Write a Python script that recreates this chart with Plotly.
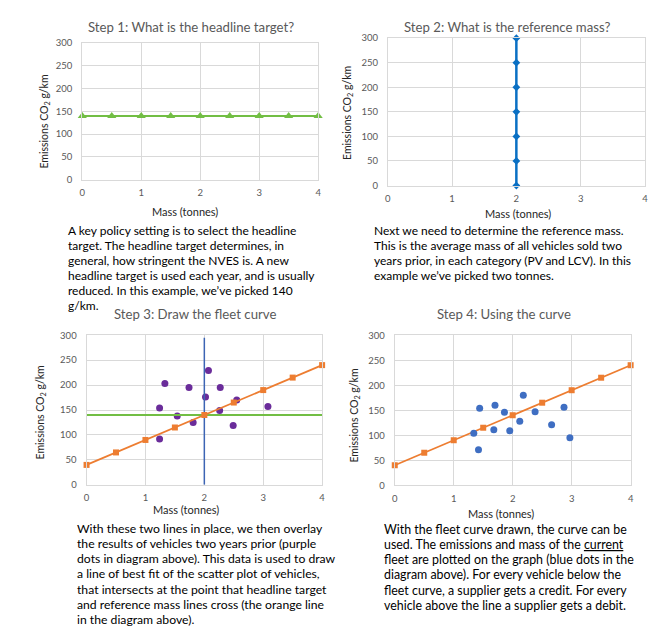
import plotly.graph_objects as go

W, H = 670, 635

# ---------------- data ----------------
mass_grid = [0, 0.5, 1, 1.5, 2, 2.5, 3, 3.5, 4]
headline_target = [140, 140, 140, 140, 140, 140, 140, 140, 140]

ref_mass_x = [2, 2, 2, 2, 2, 2, 2]
ref_mass_y = [0, 50, 100, 150, 200, 250, 300]

fleet_curve = [40, 65, 90, 115, 140, 165, 190, 215, 240]

target_line_x = [0, 4]
target_line_y = [140, 140]
ref_line_x = [2, 2]
ref_line_y = [0, 295]

prior_mass = [1.33, 1.74, 2.07, 2.27, 2.02, 2.55, 3.08, 1.24, 1.54, 2.26, 1.81, 2.49, 1.24]
prior_emis = [203, 195, 229, 195, 176, 170, 157, 154, 138, 149, 125, 119, 92]

current_mass = [1.44, 1.70, 2.18, 1.86, 2.38, 2.87, 2.12, 2.66, 1.34, 1.68, 1.95, 2.97, 1.42]
current_emis = [154, 160, 180, 146, 147, 156, 128, 121, 104, 111, 109, 95, 71]

x_ticks = [0, 1, 2, 3, 4]
y_ticks = [0, 50, 100, 150, 200, 250, 300]

titles = ["Step 1: What is the headline target?",
          "Step 2: What is the reference mass?",
          "Step 3: Draw the fleet curve",
          "Step 4: Using the curve"]
x_title = "Mass (tonnes)"
y_title = "Emissions CO<sub>2</sub> g/km"

para1 = ["A key policy setting is to select the headline",
         "target. The headline target determines, in",
         "general, how stringent the NVES is. A new",
         "headline target is used each year, and is usually",
         "reduced. In this example, we\u2019ve picked 140",
         "g/km."]
para2 = ["Next we need to determine the reference mass.",
         "This is the average mass of all vehicles sold two",
         "years prior, in each category (PV and LCV). In this",
         "example we\u2019ve picked two tonnes."]
para3 = ["With these two lines in place, we then overlay",
         "the results of vehicles two years prior (purple",
         "dots in diagram above). This data is used to draw",
         "a line of best fit of the scatter plot of vehicles,",
         "that intersects at the point that headline target",
         "and reference mass lines cross (the orange line",
         "in the diagram above)."]
para4 = ["With the fleet curve drawn, the curve can be",
         "used. The emissions and mass of the <u>current</u>",
         "fleet are plotted on the graph (blue dots in the",
         "diagram above). For every vehicle below the",
         "fleet curve, a supplier gets a credit. For every",
         "vehicle above the line a supplier gets a debit."]

# ---------------- styles ----------------
FONT = "Lato"
GREEN = "#72BE44"
BLUE2 = "#0A70C4"
BLUE3 = "#3C64B4"
ORANGE = "#ED7D31"
PURPLE = "#6A2C9A"
DOTBLUE = "#3F6EC2"
GRID = "#D9D9D9"
GRAY = "#595959"

fig = go.Figure()

def px_x(p):
    return p / W

def px_y(p):
    return 1 - p / H

# plot areas in pixels: (left, right, top, bottom)
areas = [(80, 318, 37.7, 176.7),
         (388.3, 647.7, 32.7, 182.7),
         (84.3, 322, 335, 487.3),
         (395.3, 633.3, 335, 487.7)]

# Step 1
fig.add_trace(go.Scatter(x=mass_grid, y=headline_target, mode="lines+markers",
                         line=dict(color=GREEN, width=2),
                         marker=dict(symbol="triangle-up", size=8, color=GREEN),
                         cliponaxis=False, xaxis="x", yaxis="y"))
# Step 2
fig.add_trace(go.Scatter(x=ref_mass_x, y=ref_mass_y, mode="lines+markers",
                         line=dict(color=BLUE2, width=2.5),
                         marker=dict(symbol="diamond", size=6, color=BLUE2),
                         cliponaxis=False, xaxis="x2", yaxis="y2"))
# Step 3
fig.add_trace(go.Scatter(x=prior_mass, y=prior_emis, mode="markers",
                         marker=dict(size=7, color=PURPLE),
                         cliponaxis=False, xaxis="x3", yaxis="y3"))
fig.add_trace(go.Scatter(x=target_line_x, y=target_line_y, mode="lines",
                         line=dict(color=GREEN, width=1.8),
                         cliponaxis=False, xaxis="x3", yaxis="y3"))
fig.add_trace(go.Scatter(x=ref_line_x, y=ref_line_y, mode="lines",
                         line=dict(color=BLUE3, width=1.5),
                         cliponaxis=False, xaxis="x3", yaxis="y3"))
fig.add_trace(go.Scatter(x=mass_grid, y=fleet_curve, mode="lines+markers",
                         line=dict(color=ORANGE, width=1.8),
                         marker=dict(symbol="square", size=6, color=ORANGE),
                         cliponaxis=False, xaxis="x3", yaxis="y3"))
# Step 4
fig.add_trace(go.Scatter(x=mass_grid, y=fleet_curve, mode="lines+markers",
                         line=dict(color=ORANGE, width=1.8),
                         marker=dict(symbol="square", size=6, color=ORANGE),
                         cliponaxis=False, xaxis="x4", yaxis="y4"))
fig.add_trace(go.Scatter(x=current_mass, y=current_emis, mode="markers",
                         marker=dict(size=7, color=DOTBLUE),
                         cliponaxis=False, xaxis="x4", yaxis="y4"))

layout = dict(width=W, height=H, margin=dict(l=0, r=0, t=0, b=0),
              paper_bgcolor="white", plot_bgcolor="white", showlegend=False,
              font=dict(family=FONT, color=GRAY))

for i, (l, r, t, b) in enumerate(areas):
    sfx = "" if i == 0 else str(i + 1)
    layout["xaxis" + sfx] = dict(domain=[px_x(l), px_x(r)], range=[0, 4],
                                 tickvals=x_ticks, showgrid=True, gridcolor=GRID,
                                 gridwidth=1, zeroline=False, showline=True,
                                 linecolor=GRID, mirror=True, ticks="outside",
                                 ticklen=4, tickcolor="rgba(0,0,0,0)",
                                 tickfont=dict(family=FONT, size=9.5, color=GRAY),
                                 anchor="y" + sfx, fixedrange=True)
    layout["yaxis" + sfx] = dict(domain=[px_y(b), px_y(t)], range=[0, 300],
                                 tickvals=y_ticks, showgrid=True, gridcolor=GRID,
                                 gridwidth=1, zeroline=False, showline=True,
                                 linecolor=GRID, mirror=True, ticks="outside",
                                 ticklen=7, tickcolor="rgba(0,0,0,0)",
                                 tickfont=dict(family=FONT, size=9.5, color=GRAY),
                                 anchor="x" + sfx, fixedrange=True)

fig.update_layout(**layout)

ann = []
# chart titles (center x, center y)
title_pos = [(189.7, 21), (509, 21), (194, 313), (506, 313)]
for txt, (cx, cy) in zip(titles, title_pos):
    ann.append(dict(text=txt, x=px_x(cx), y=px_y(cy), xref="paper", yref="paper",
                    xanchor="center", yanchor="middle", showarrow=False,
                    font=dict(family=FONT, size=13.2, color=GRAY)))
# x axis titles
xt_pos = [(183.5, 209), (520, 211), (185, 512), (502.7, 516)]
for cx, cy in xt_pos:
    ann.append(dict(text=x_title, x=px_x(cx), y=px_y(cy), xref="paper", yref="paper",
                    xanchor="center", yanchor="middle", showarrow=False,
                    font=dict(family=FONT, size=11, color="#262626")))
# y axis titles
yt_pos = [(42, 118), (348, 109), (38, 414), (355, 417)]
for cx, cy in yt_pos:
    ann.append(dict(text=y_title, x=px_x(cx), y=px_y(cy), xref="paper", yref="paper",
                    xanchor="center", yanchor="middle", showarrow=False, textangle=-90,
                    font=dict(family=FONT, size=10.5, color="#262626")))
# paragraphs, one annotation per line
paras = [(para1, 65, 228, 12.0), (para2, 373, 228.3, 12.0),
         (para3, 74, 531.7, 12.2), (para4, 383.3, 532.7, 12.4)]
for lines, lx, ly, fs in paras:
    for k, line in enumerate(lines):
        ann.append(dict(text=line, x=px_x(lx), y=px_y(ly + 15.4 * k),
                        xref="paper", yref="paper", xanchor="left", yanchor="middle",
                        showarrow=False, borderpad=0,
                        font=dict(family=FONT, size=fs, color="#000000")))

fig.update_layout(annotations=ann)
fig.write_html("out.html", config={"displayModeBar": False},
               post_script="document.body.style.margin='0px';")
